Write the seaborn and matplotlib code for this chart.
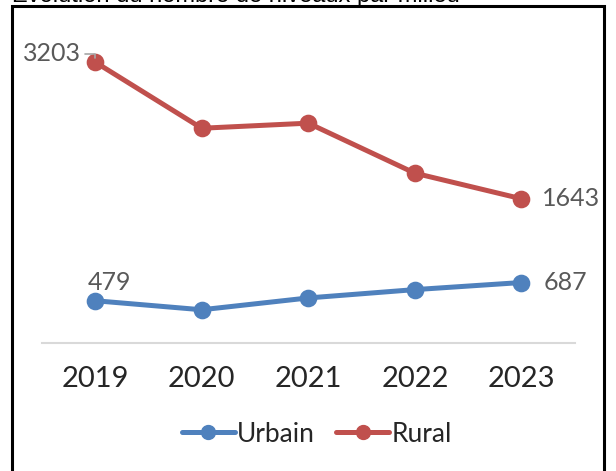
import pandas as pd
import matplotlib.pyplot as plt
import seaborn as sns
from matplotlib.patches import Rectangle
from matplotlib.lines import Line2D

# Values
annees = ['2019', '2020', '2021', '2022', '2023']
urbain = [479, 376, 511, 606, 687]
rural = [3203, 2448, 2506, 1935, 1643]
milieux = ['Urbain', 'Rural']
couleurs = ['#4F81BD', '#C0504D']
titre = 'Evolution du nombre de niveaux par milieu'

df = pd.DataFrame({
    'annee': annees * 2,
    'valeur': urbain + rural,
    'milieu': ['Urbain'] * len(annees) + ['Rural'] * len(annees),
})

sns.set_theme(style='white')
plt.rcParams['font.family'] = ['Lato', 'DejaVu Sans']

fig = plt.figure(figsize=(6.16, 4.71), dpi=100)
ax = fig.add_axes([0.068, 0.2724, 0.865, 0.651])

sns.pointplot(data=df, x='annee', y='valeur', hue='milieu', hue_order=milieux,
              palette=couleurs, markers='o', errorbar=None, linewidth=3.6,
              markersize=10, ax=ax)

ax.set_xlim(-0.5, len(annees) - 0.5)
ax.set_ylim(0, 3500)
ax.set_xlabel('')
ax.set_ylabel('')
ax.set_yticks([])
for side in ['left', 'right', 'top']:
    ax.spines[side].set_visible(False)
ax.spines['bottom'].set_color('#D9D9D9')
ax.spines['bottom'].set_linewidth(1.5)
ax.tick_params(axis='x', length=0, pad=17, labelsize=21, colors='#262626')

# data labels
lab = dict(fontsize=18, color='#595959')
ax.annotate(str(rural[0]), xy=(0, rural[0]), xytext=(-10, 6), textcoords='offset points',
            ha='right', va='center', **lab,
            arrowprops=dict(arrowstyle='-', color='#A6A6A6', lw=1.2,
                            connectionstyle='angle,angleA=0,angleB=90,rad=0',
                            shrinkA=0, shrinkB=3))
ax.annotate(str(rural[-1]), xy=(4, rural[-1]), xytext=(15, 0), textcoords='offset points',
            ha='left', va='center', **lab)
ax.annotate(str(urbain[0]), xy=(0, urbain[0]), xytext=(-5, 13), textcoords='offset points',
            ha='left', va='center', **lab)
ax.annotate(str(urbain[-1]), xy=(4, urbain[-1]), xytext=(16, 0), textcoords='offset points',
            ha='left', va='center', **lab)

handles = [Line2D([], [], color=c, lw=3.6, marker='o', markersize=10) for c in couleurs]
ax.legend(handles, milieux, loc='center', bbox_to_anchor=(0.516, -0.298), ncol=2,
          frameon=False, fontsize=19, handlelength=2.0, handletextpad=0.1,
          columnspacing=0.8)

# outer frame and clipped title
fig.patches.append(Rectangle((12 / 616, -0.1), 592 / 616, 1 - 6 / 471 + 0.1,
                             transform=fig.transFigure, fill=False, ec='black',
                             lw=2.2, zorder=10))
fig.text(12 / 616, 1 - 2 / 471, titre, fontsize=17, family='Liberation Sans',
         ha='left', va='baseline', color='black')

fig.savefig('out.png', dpi=100)
